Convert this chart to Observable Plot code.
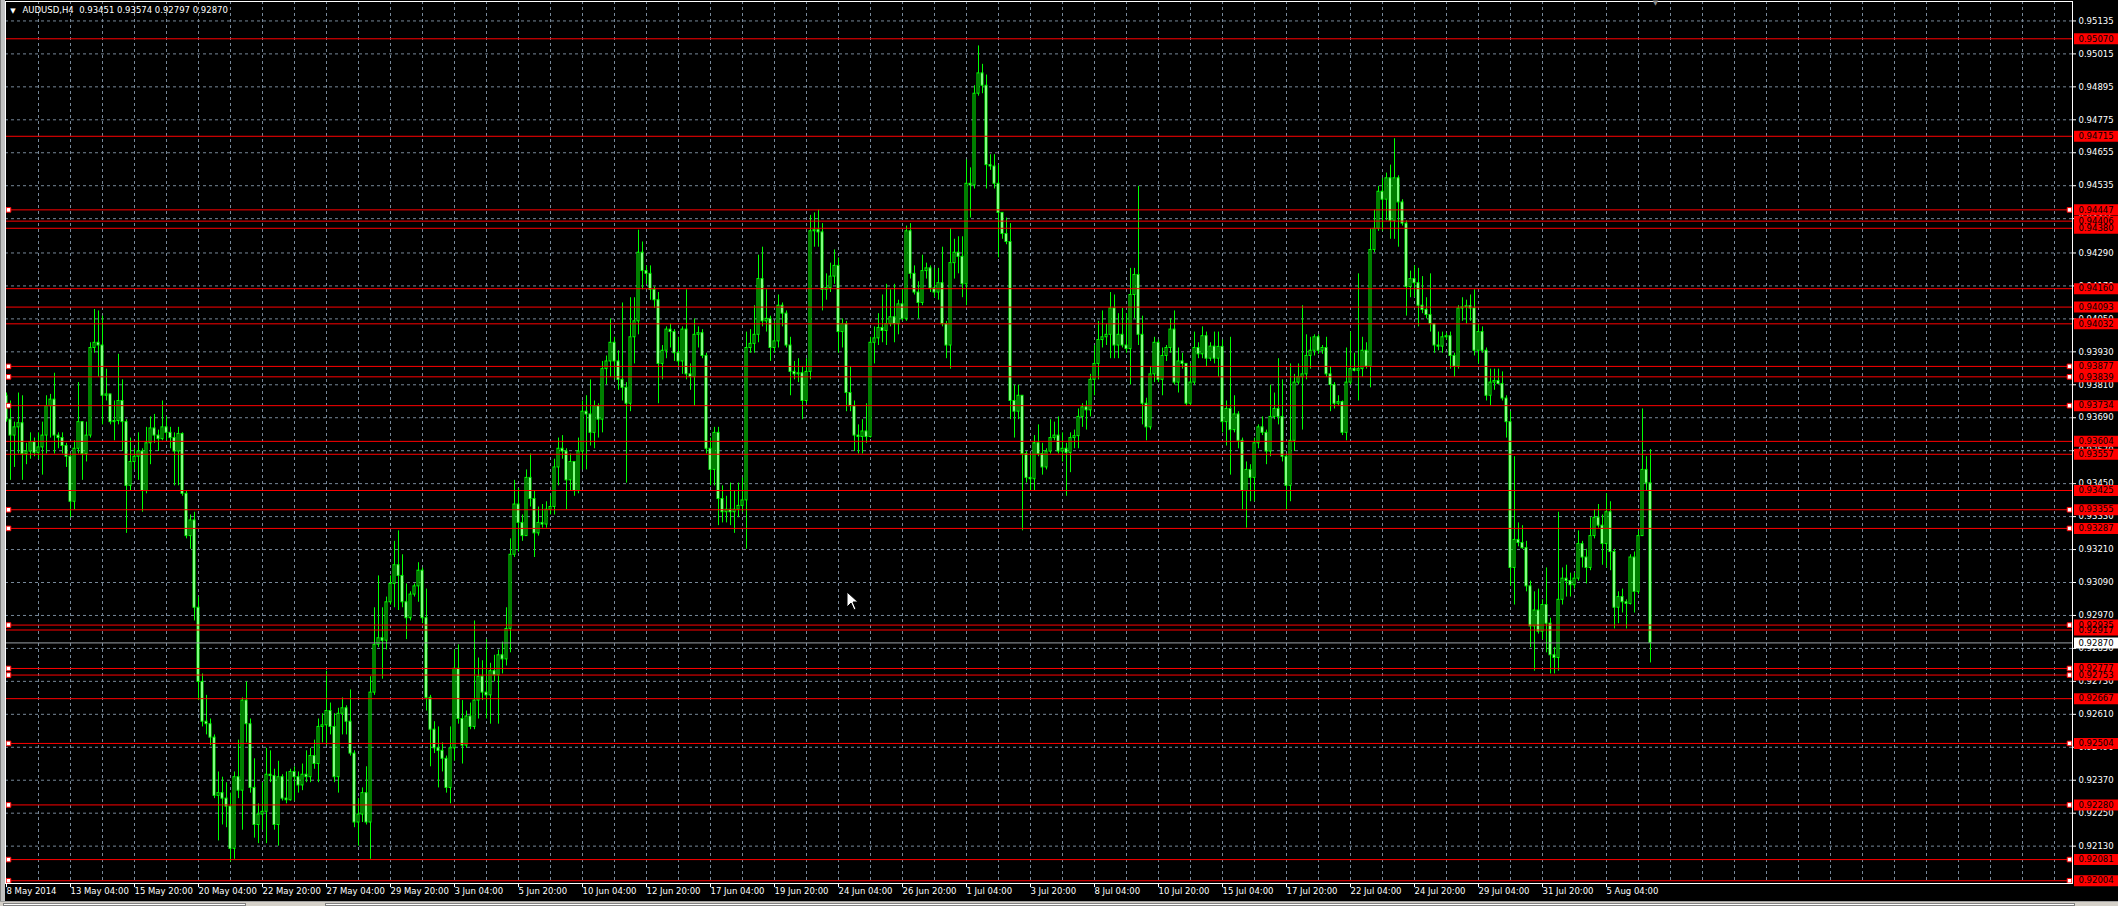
<!DOCTYPE html>
<html><head><meta charset="utf-8">
<script src="https://cdn.jsdelivr.net/npm/d3@7"></script>
<script src="https://cdn.jsdelivr.net/npm/@observablehq/plot@0.6"></script>
<style>
html,body{margin:0;padding:0;background:#000;overflow:hidden}
#wrap{position:relative;width:2118px;height:906px;background:#000}
#wrap svg{display:block}
.lborder{position:absolute;left:0;top:0;width:5px;height:901px;background:#c0c0c0;border-left:1px solid #808080;box-sizing:border-box}
.bborder{position:absolute;left:0;top:901px;width:2118px;height:5px;background:#d4d0c8;border-top:1px solid #a0a0a0;box-sizing:border-box}
.tab{position:absolute;top:903px;height:3px;background:#fff;border:1px solid #808080;box-sizing:border-box}
.cursor{position:absolute;left:846px;top:591px}
</style></head><body><div id="wrap"></div>
<script>
// ---- DATA (AUDUSD H4) ----
const firstOpen = 0.93770;
const closes = [
0.93683,0.93625,0.93655,0.93670,0.93558,0.93567,0.93601,0.93562,0.93582,0.93625,
0.93732,0.93756,0.93625,0.93616,0.93587,0.93548,0.93384,0.93577,0.93674,0.93558,
0.93625,0.93944,0.93963,0.93953,0.93770,0.93775,0.93674,0.93678,0.93751,0.93674,
0.93442,0.93529,0.93548,0.93567,0.93423,0.93597,0.93651,0.93625,0.93612,0.93655,
0.93635,0.93616,0.93567,0.93631,0.93413,0.93259,0.93316,0.92998,0.92728,0.92583,
0.92574,0.92525,0.92313,0.92323,0.92303,0.92274,0.92120,0.92381,0.92332,0.92660,
0.92574,0.92342,0.92207,0.92245,0.92255,0.92390,0.92385,0.92207,0.92381,0.92303,
0.92297,0.92400,0.92381,0.92351,0.92390,0.92381,0.92458,0.92429,0.92564,0.92570,
0.92622,0.92564,0.92381,0.92612,0.92632,0.92583,0.92467,0.92216,0.92245,0.92323,
0.92216,0.92689,0.92863,0.92887,0.92878,0.93018,0.93085,0.93153,0.93114,0.93018,
0.92960,0.93046,0.93076,0.93133,0.92960,0.92670,0.92554,0.92486,0.92477,0.92448,
0.92342,0.92486,0.92776,0.92593,0.92496,0.92602,0.92564,0.92660,0.92747,0.92689,
0.92679,0.92767,0.92752,0.92825,0.92810,0.92921,0.93191,0.93374,0.93307,0.93259,
0.93471,0.93394,0.93269,0.93307,0.93301,0.93355,0.93365,0.93509,0.93577,0.93567,
0.93462,0.93529,0.93423,0.93567,0.93712,0.93702,0.93635,0.93732,0.93683,0.93867,
0.93895,0.93963,0.93895,0.93828,0.93799,0.93741,0.93983,0.94041,0.94291,0.94224,
0.94214,0.94156,0.94118,0.93886,0.93934,0.94011,0.94002,0.93925,0.93895,0.94011,
0.93848,0.93838,0.93992,0.93998,0.93915,0.93577,0.93500,0.93635,0.93394,0.93346,
0.93355,0.93346,0.93355,0.93369,0.93389,0.93944,0.93959,0.93992,0.94195,0.94041,
0.94050,0.93944,0.93968,0.94098,0.94069,0.93953,0.93857,0.93848,0.93852,0.93751,
0.93857,0.94369,0.94373,0.94365,0.94156,0.94162,0.94204,0.94243,0.94002,0.94031,
0.93780,0.93732,0.93625,0.93620,0.93640,0.93620,0.93963,0.93979,0.94017,0.94006,
0.94031,0.94056,0.94031,0.94103,0.94050,0.94369,0.94214,0.94146,0.94108,0.94224,
0.94234,0.94161,0.94146,0.94180,0.94031,0.93953,0.94253,0.94291,0.94276,0.94176,
0.94542,0.94536,0.94870,0.94944,0.94899,0.94610,0.94605,0.94542,0.94436,0.94359,
0.94330,0.93751,0.93712,0.93770,0.93558,0.93471,0.93466,0.93597,0.93558,0.93509,
0.93567,0.93616,0.93625,0.93567,0.93577,0.93562,0.93616,0.93623,0.93693,0.93728,
0.93717,0.93828,0.93886,0.93973,0.93983,0.93992,0.94088,0.93953,0.93992,0.93953,
0.93940,0.94137,0.94210,0.93992,0.93741,0.93655,0.93848,0.93963,0.93828,0.93915,
0.93944,0.94011,0.93818,0.93895,0.93886,0.93741,0.93818,0.93944,0.93921,0.93987,
0.93905,0.93949,0.93905,0.93948,0.93674,0.93722,0.93645,0.93702,0.93606,0.93423,
0.93500,0.93471,0.93597,0.93655,0.93635,0.93567,0.93693,0.93722,0.93693,0.93548,
0.93442,0.93606,0.93818,0.93838,0.93848,0.93915,0.93934,0.93983,0.93934,0.93944,
0.93848,0.93809,0.93741,0.93747,0.93635,0.93818,0.93867,0.93861,0.93867,0.93934,
0.93876,0.94301,0.94378,0.94513,0.94484,0.94562,0.94407,0.94562,0.94474,0.94397,
0.94166,0.94195,0.94180,0.94098,0.94083,0.94064,0.94031,0.93953,0.93949,0.93983,
0.93987,0.93915,0.93876,0.94088,0.94092,0.94096,0.94088,0.93934,0.94002,0.93934,
0.93770,0.93818,0.93824,0.93813,0.93760,0.93674,0.93143,0.93245,0.93234,0.93215,
0.93076,0.92930,0.92988,0.92911,0.93008,0.92940,0.92825,0.92815,0.93027,0.93104,
0.93095,0.93080,0.93104,0.93230,0.93181,0.93143,0.93259,0.93326,0.93297,0.93230,
0.93346,0.93201,0.92998,0.93037,0.93018,0.93012,0.93181,0.93056,0.93259,0.93500,
0.93451,0.92870];
const highs = [
0.93780,0.93751,0.93674,0.93780,0.93770,0.93597,0.93635,0.93616,0.93635,0.93674,
0.93770,0.93775,0.93852,0.93635,0.93635,0.93597,0.93558,0.93606,0.93818,0.93674,
0.93674,0.93963,0.94084,0.94079,0.94060,0.93867,0.93775,0.93751,0.93921,0.93828,
0.93683,0.93616,0.93577,0.93635,0.93577,0.93655,0.93693,0.93702,0.93645,0.93751,
0.93693,0.93655,0.93635,0.93655,0.93635,0.93423,0.93336,0.93346,0.93037,0.92757,
0.92679,0.92593,0.92535,0.92400,0.92381,0.92361,0.92323,0.92400,0.92516,0.92670,
0.92728,0.92593,0.92448,0.92284,0.92361,0.92486,0.92477,0.92410,0.92439,0.92390,
0.92400,0.92410,0.92419,0.92400,0.92429,0.92477,0.92486,0.92516,0.92593,0.92612,
0.92767,0.92651,0.92612,0.92632,0.92670,0.92641,0.92699,0.92477,0.92303,0.92342,
0.92419,0.92747,0.92998,0.93114,0.92998,0.93037,0.93114,0.93240,0.93278,0.93191,
0.93085,0.93056,0.93085,0.93162,0.93143,0.93066,0.92679,0.92583,0.92564,0.92506,
0.92458,0.92564,0.92844,0.92863,0.92660,0.92622,0.92651,0.92950,0.92815,0.92805,
0.92882,0.92796,0.92825,0.92844,0.92873,0.92998,0.93249,0.93462,0.93432,0.93336,
0.93500,0.93558,0.93423,0.93365,0.93374,0.93384,0.93404,0.93539,0.93616,0.93625,
0.93577,0.93558,0.93529,0.93616,0.93751,0.93770,0.93828,0.93751,0.93741,0.93895,
0.93915,0.94050,0.93983,0.93934,0.94108,0.93818,0.94127,0.94127,0.94373,0.94330,
0.94243,0.94243,0.94166,0.94146,0.93953,0.94021,0.94031,0.94011,0.93983,0.94021,
0.94156,0.93886,0.94050,0.94021,0.94011,0.93925,0.93616,0.93655,0.93655,0.93442,
0.93404,0.93452,0.93423,0.93452,0.93471,0.94002,0.94011,0.94098,0.94282,0.94311,
0.94156,0.94060,0.94041,0.94137,0.94108,0.94079,0.93983,0.93895,0.93905,0.93876,
0.93905,0.94427,0.94436,0.94446,0.94397,0.94214,0.94253,0.94301,0.94272,0.94050,
0.94041,0.93876,0.93751,0.93664,0.93683,0.93741,0.93983,0.94021,0.94069,0.94137,
0.94176,0.94156,0.94176,0.94118,0.94156,0.94388,0.94397,0.94243,0.94185,0.94282,
0.94253,0.94243,0.94234,0.94234,0.94311,0.94041,0.94378,0.94340,0.94349,0.94349,
0.94629,0.94600,0.94899,0.95044,0.94977,0.94938,0.94648,0.94648,0.94610,0.94436,
0.94417,0.94397,0.93809,0.93809,0.93770,0.93567,0.93558,0.93625,0.93664,0.93597,
0.93577,0.93683,0.93674,0.93693,0.93635,0.93597,0.93635,0.93645,0.93722,0.93741,
0.93751,0.93848,0.93953,0.94041,0.94079,0.94031,0.94146,0.94137,0.94069,0.94088,
0.94069,0.94234,0.94234,0.94533,0.94060,0.93761,0.93876,0.93983,0.93973,0.93944,
0.93953,0.94050,0.94079,0.93944,0.93925,0.93886,0.93886,0.94002,0.93963,0.94021,
0.94002,0.93963,0.94002,0.94002,0.93973,0.93751,0.93983,0.93770,0.93712,0.93616,
0.93529,0.93519,0.93616,0.93664,0.93693,0.93645,0.93809,0.93780,0.93905,0.93828,
0.93558,0.93886,0.93848,0.93886,0.94098,0.93992,0.93983,0.93992,0.93992,0.93953,
0.93983,0.93876,0.93818,0.93770,0.93751,0.93944,0.94002,0.93925,0.94214,0.93983,
0.93963,0.94378,0.94446,0.94533,0.94562,0.94581,0.94610,0.94706,0.94571,0.94484,
0.94407,0.94224,0.94243,0.94234,0.94204,0.94127,0.94214,0.94031,0.94002,0.94002,
0.93998,0.94002,0.93925,0.94098,0.94127,0.94118,0.94137,0.94156,0.94031,0.94021,
0.93944,0.93867,0.93867,0.93867,0.93857,0.93770,0.93712,0.93548,0.93307,0.93297,
0.93240,0.93095,0.93056,0.93066,0.93027,0.93143,0.92960,0.92853,0.93346,0.93143,
0.93153,0.93124,0.93124,0.93278,0.93240,0.93211,0.93326,0.93355,0.93374,0.93336,
0.93413,0.93384,0.93211,0.93056,0.93066,0.93027,0.93191,0.93201,0.93278,0.93722,
0.93548,0.93574];
const lows = [
0.93674,0.93462,0.93509,0.93558,0.93462,0.93519,0.93539,0.93548,0.93539,0.93481,
0.93558,0.93616,0.93558,0.93577,0.93558,0.93509,0.93326,0.93355,0.93558,0.93462,
0.93529,0.93616,0.93925,0.93838,0.93664,0.93751,0.93664,0.93606,0.93664,0.93567,
0.93269,0.93423,0.93500,0.93462,0.93346,0.93413,0.93519,0.93597,0.93567,0.93606,
0.93606,0.93577,0.93442,0.93442,0.93404,0.93249,0.93211,0.92950,0.92660,0.92564,
0.92535,0.92496,0.92303,0.92149,0.92207,0.92197,0.92072,0.92082,0.92303,0.92188,
0.92506,0.92323,0.92159,0.92139,0.92188,0.92139,0.92361,0.92188,0.92130,0.92294,
0.92284,0.92294,0.92294,0.92323,0.92332,0.92361,0.92361,0.92410,0.92361,0.92506,
0.92496,0.92535,0.92361,0.92323,0.92535,0.92535,0.92458,0.92197,0.92130,0.92216,
0.92207,0.92082,0.92679,0.92853,0.92738,0.92844,0.93008,0.92998,0.92988,0.92998,
0.92882,0.92950,0.93037,0.93018,0.92940,0.92622,0.92419,0.92467,0.92342,0.92400,
0.92323,0.92284,0.92439,0.92574,0.92429,0.92486,0.92554,0.92554,0.92593,0.92660,
0.92593,0.92574,0.92728,0.92574,0.92757,0.92786,0.92834,0.93181,0.93201,0.93240,
0.93259,0.93365,0.93181,0.93259,0.93288,0.93288,0.93336,0.93336,0.93442,0.93539,
0.93355,0.93423,0.93404,0.93413,0.93500,0.93500,0.93587,0.93577,0.93616,0.93635,
0.93809,0.93838,0.93828,0.93790,0.93751,0.93452,0.93712,0.93886,0.93992,0.94156,
0.94176,0.94118,0.94088,0.93741,0.93828,0.93905,0.93944,0.93895,0.93876,0.93848,
0.93828,0.93790,0.93732,0.93944,0.93905,0.93558,0.93442,0.93442,0.93297,0.93307,
0.93307,0.93297,0.93269,0.93326,0.93346,0.93211,0.93925,0.93925,0.93963,0.94021,
0.94002,0.93895,0.93925,0.93944,0.94021,0.93944,0.93770,0.93828,0.93818,0.93683,
0.93741,0.93828,0.94311,0.94311,0.94079,0.94118,0.94146,0.94176,0.93925,0.93944,
0.93712,0.93712,0.93567,0.93558,0.93558,0.93597,0.93616,0.93886,0.93953,0.93963,
0.93953,0.94021,0.93963,0.93992,0.94041,0.94041,0.94195,0.94137,0.94050,0.94098,
0.94195,0.94146,0.94127,0.94118,0.94021,0.93905,0.93867,0.94195,0.94214,0.94127,
0.94098,0.94417,0.94523,0.94861,0.94870,0.94523,0.94591,0.94523,0.94272,0.94340,
0.94320,0.93683,0.93616,0.93683,0.93278,0.93452,0.93423,0.93423,0.93548,0.93481,
0.93500,0.93558,0.93606,0.93558,0.93529,0.93404,0.93490,0.93577,0.93577,0.93655,
0.93645,0.93693,0.93770,0.93828,0.93944,0.93953,0.93905,0.93905,0.93905,0.93944,
0.93925,0.93809,0.94050,0.93953,0.93664,0.93606,0.93645,0.93818,0.93818,0.93770,
0.93895,0.93925,0.93809,0.93780,0.93867,0.93732,0.93732,0.93809,0.93905,0.93905,
0.93876,0.93895,0.93886,0.93838,0.93635,0.93587,0.93481,0.93635,0.93577,0.93355,
0.93288,0.93384,0.93384,0.93577,0.93625,0.93519,0.93548,0.93683,0.93664,0.93529,
0.93355,0.93384,0.93567,0.93809,0.93645,0.93828,0.93867,0.93915,0.93921,0.93921,
0.93838,0.93712,0.93722,0.93732,0.93625,0.93606,0.93809,0.93857,0.93751,0.93838,
0.93867,0.93799,0.94291,0.94369,0.94369,0.94407,0.94340,0.94340,0.94311,0.94388,
0.94060,0.94127,0.94127,0.94021,0.94069,0.94050,0.94002,0.93925,0.93934,0.93925,
0.93973,0.93867,0.93838,0.93867,0.94041,0.94031,0.94041,0.93915,0.93886,0.93925,
0.93751,0.93732,0.93790,0.93809,0.93751,0.93616,0.93076,0.93008,0.93220,0.93211,
0.93056,0.92853,0.92767,0.92902,0.92882,0.92834,0.92757,0.92757,0.92767,0.93008,
0.93037,0.93037,0.93066,0.93095,0.93143,0.93085,0.93133,0.93249,0.93288,0.93153,
0.93143,0.93133,0.92921,0.92940,0.92979,0.92921,0.93008,0.92979,0.93047,0.93259,
0.93423,0.92797];

const levels = [0.95070,0.94715,0.94447,0.94406,0.94380,0.94160,0.94093,0.94032,0.93877,0.93839,0.93734,0.93604,0.93557,0.93425,0.93355,0.93287,0.92935,0.92917,0.92777,0.92753,0.92667,0.92504,0.92280,0.92081,0.92004];
const levelHandles = [0,0,1,0,0,0,0,0,1,1,1,0,0,0,1,1,1,0,1,1,0,1,1,1,1];
const bid = 0.92870;
const yTicks = [0.95135,0.95015,0.94895,0.94775,0.94655,0.94535,0.94415,0.94290,0.94170,0.94050,0.93930,0.93810,0.93690,0.93570,0.93450,0.93330,0.93210,0.93090,0.92970,0.92850,0.92730,0.92610,0.92490,0.92370,0.92250,0.92130];
const yTickLabels = ["0.95135","0.95015","0.94895","0.94775","0.94655","0.94535","0.94415","0.94290","0.94170","0.94050","0.93930","0.93810","0.93690","0.93570","0.93450","0.93330","0.93210","0.93090","0.92970","0.92850","0.92730","0.92610","0.92490","0.92370","0.92250","0.92130"];
const xTickIdx = [0,16,32,48,64,80,96,112,128,144,160,176,192,208,224,240,256,272,288,304,320,336,352,368,384,400];
const xTickLabels = ["8 May 2014","13 May 04:00","15 May 20:00","20 May 04:00","22 May 20:00","27 May 04:00","29 May 20:00","3 Jun 04:00","5 Jun 20:00","10 Jun 04:00","12 Jun 20:00","17 Jun 04:00","19 Jun 20:00","24 Jun 04:00","26 Jun 20:00","1 Jul 04:00","3 Jul 20:00","8 Jul 04:00","10 Jul 20:00","15 Jul 04:00","17 Jul 20:00","22 Jul 04:00","24 Jul 20:00","29 Jul 04:00","31 Jul 20:00","5 Aug 04:00"];
const titleText = "AUDUSD,H4  0.93451 0.93574 0.92797 0.92870";

// ---- BUILD ----
const candles = closes.map((c, i) => ({
  i, open: i === 0 ? firstOpen : closes[i - 1], close: c, high: highs[i], low: lows[i]
}));
const bears = candles.filter(d => d.close < d.open);
const bulls = candles.filter(d => d.close >= d.open);
const gridIdx = d3.range(8, 516, 8);
const handled = levels.filter((d, k) => levelHandles[k]);

const W = 2118, H = 906;
const XD = [-0.25, 516.5];          // candle index domain
const YD = [0.919939, 0.952058];    // price domain
const G = "#00ff00", GRID = "#778899", RED = "#ff0000";
const FS = 8.5;
const bodyY2 = d => (d.close === d.open ? d.close - 0.00001 : d.close);

const chart = Plot.plot({
  width: W, height: H,
  marginLeft: 5, marginRight: 46, marginTop: 1, marginBottom: 23,
  style: {background: "#000", color: "#fff", fontFamily: "'DejaVu Sans', sans-serif", fontSize: FS + "px"},
  x: {domain: XD, axis: null},
  y: {domain: YD, axis: null},
  marks: [
    Plot.ruleY(yTicks, {stroke: GRID, strokeDasharray: "3,3"}),
    Plot.ruleX(gridIdx, {stroke: GRID, strokeDasharray: "3,3"}),
    Plot.ruleX(candles, {x: "i", y1: d => Math.min(d.low, d.open, d.close), y2: d => Math.max(d.high, d.open, d.close), stroke: G}),
    Plot.rect(bears, {x1: d => d.i - 0.25, x2: d => d.i + 0.25, y1: "open", y2: bodyY2, fill: "#ffffff", stroke: G}),
    Plot.rect(bulls, {x1: d => d.i - 0.25, x2: d => d.i + 0.25, y1: "open", y2: bodyY2, fill: "#000000", stroke: G}),
    Plot.ruleY([bid], {stroke: "#9aa0a8"}),
    Plot.ruleY(levels, {stroke: RED}),
    Plot.dot(handled, {x: 0.5, y: d => d, symbol: "square", r: 2.6, fill: "#fff", stroke: RED, strokeWidth: 1}),
    Plot.dot(handled, {x: 515.75, y: d => d, symbol: "square", r: 2.6, fill: "#fff", stroke: RED, strokeWidth: 1}),
    Plot.frame({stroke: "#ffffff"}),
    // right axis
    Plot.ruleY(yTicks, {x1: 516.5, x2: 517.5, stroke: "#fff"}),
    Plot.text(yTicks, {x: 518, y: d => d, text: (d, i) => yTickLabels[i], textAnchor: "start", fill: "#fff", fontSize: FS}),
    // level price labels
    Plot.ruleY(levels, {x1: 517, x2: 528, stroke: RED, strokeWidth: 11}),
    Plot.text(levels, {x: 518, y: d => d, text: d => d.toFixed(5), textAnchor: "start", fill: "#000", fontSize: FS}),
    Plot.ruleY([bid], {x1: 517, x2: 528, stroke: "#fff", strokeWidth: 11}),
    Plot.text([bid], {x: 518, y: d => d, text: d => d.toFixed(5), textAnchor: "start", fill: "#000", fontSize: FS}),
    // bottom axis
    Plot.ruleX(xTickIdx, {x: d => d, y1: YD[0], y2: YD[0] - 0.00015, stroke: "#fff"}),
    Plot.text(xTickIdx, {x: d => d, frameAnchor: "bottom", dy: 10, dx: 0, text: (d, i) => xTickLabels[i], textAnchor: "start", fill: "#fff", fontSize: FS}),
    // title
    Plot.text(["\u25BC"], {frameAnchor: "top-left", dx: 7.5, dy: 9, text: d => d, fill: "#fff", fontSize: 7, textAnchor: "middle", lineAnchor: "middle"}),
    Plot.text([titleText], {frameAnchor: "top-left", dx: 17, dy: 9, text: d => d, fill: "#fff", fontSize: FS, textAnchor: "start", lineAnchor: "middle"}),
    Plot.text(["\u25BC"], {x: 412.25, frameAnchor: "top", dy: 1, text: d => d, fill: "#8a8a8a", fontSize: 7, textAnchor: "middle", lineAnchor: "middle"})
  ]
});
const wrap = document.getElementById("wrap");
wrap.appendChild(chart);
wrap.insertAdjacentHTML("beforeend",
  '<div class="lborder"></div><div class="bborder"></div>' +
  '<div class="tab" style="left:3px;width:243px"></div><div class="tab" style="left:325px;width:1750px"></div>' +
  '<svg class="cursor" width="14" height="22"><polygon points="1,1 1,16 5,12 8,19 10,18 7,11 12,11" fill="#fff" stroke="#000" stroke-width="1"/></svg>');
</script>
</body></html>
